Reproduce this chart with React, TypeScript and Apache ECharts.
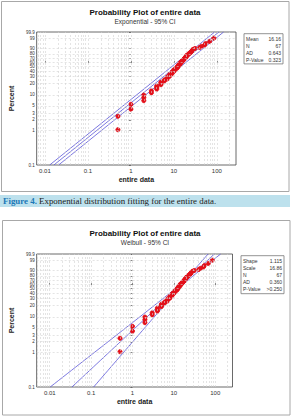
import React, { useEffect, useRef } from 'react';
import * as echarts from 'echarts';

// Sorted observations of "entire data" (N = 67)
const entireData = [0.5, 0.5, 1, 1, 2, 2, 2, 3, 3, 4, 4, 4, 5, 5, 5, 6, 6, 7, 7, 7, 8, 8, 8, 9, 9, 9, 10, 10, 10, 11, 11, 12, 12, 12, 13, 13, 13, 14, 14, 14, 15, 15, 16, 16, 17, 17, 18, 18, 19, 19, 20, 20, 21, 22, 23, 24, 25, 26, 27, 28, 31, 40, 44, 52, 55, 68, 85];
// Plotted percent (median rank) for each observation
const percentPos = [1.04, 2.52, 4.01, 5.49, 6.97, 8.46, 9.94, 11.42, 12.91, 14.39, 15.88, 17.36, 18.84, 20.33, 21.81, 23.29, 24.78, 26.26, 27.74, 29.23, 30.71, 32.2, 33.68, 35.16, 36.65, 38.13, 39.61, 41.1, 42.58, 44.07, 45.55, 47.03, 48.52, 50.0, 51.48, 52.97, 54.45, 55.93, 57.42, 58.9, 60.39, 61.87, 63.35, 64.84, 66.32, 67.8, 69.29, 70.77, 72.26, 73.74, 75.22, 76.71, 78.19, 79.67, 81.16, 82.64, 84.12, 85.61, 87.09, 88.58, 90.06, 91.54, 93.03, 94.51, 95.99, 97.48, 98.96];

const percentTicks = [0.1, 1, 2, 3, 5, 10, 20, 30, 40, 50, 60, 70, 80, 90, 99, 99.9];
const xTicks = [0.01, 0.1, 1, 10, 100];
const xTickLabels = ['0.01', '0.1', '1', '10', '100'];
const minorMultipliers = [1, 2, 3, 4, 5, 6, 7, 8, 9];
const decades = [0.001, 0.01, 0.1, 1, 10, 100];

// Fit parameters
const expMean = 16.16;
const expMeanLo = 12.9;
const expMeanHi = 20.8;
const wbShape = 1.115;
const wbScale = 16.86;
const wbCiH0 = 0.04;
const wbCiK = 0.1745;
const wbCiW0 = 0;

const statsTop = [['Mean', '16.16'], ['N', '67'], ['AD', '0.643'], ['P-Value', '0.323']];
const statsBottom = [['Shape', '1.115'], ['Scale', '16.86'], ['N', '67'], ['AD', '0.360'], ['P-Value', '>0.250']];

const W = (p: number) => Math.log10(-Math.log(1 - p / 100));
const L = (x: number) => Math.log10(x);

const RED = '#e3101a';
const BLUE = '#5a55d8';
const GRID = '#d2d2d2';
const FONT = 'Liberation Sans, Arial, sans-serif';

function buildOption() {
  const wMin = W(0.1);
  const wMax = W(99.9);
  const pts = entireData.map((x, i) => [L(x), W(percentPos[i])]);

  const xRanges = [
    [-2.192, 2.446],
    [-2.316, 2.418],
  ];

  const pLabel = (v: number) => {
    let best = 0;
    percentTicks.forEach((p, i) => {
      if (Math.abs(W(p) - v) < Math.abs(W(percentTicks[best]) - v)) best = i;
    });
    return String(percentTicks[best]);
  };
  const xLabel = (v: number) => {
    let best = 0;
    xTicks.forEach((t, i) => {
      if (Math.abs(L(t) - v) < Math.abs(L(xTicks[best]) - v)) best = i;
    });
    return xTickLabels[best];
  };

  const gridLineSeries = (idx: number) => {
    const [a, b] = xRanges[idx];
    const vLines: any[] = [];
    decades.forEach((d) => minorMultipliers.forEach((m) => {
      const v = L(d * m);
      if (v > a + 0.01 && v < b - 0.01) vLines.push({ xAxis: v });
    }));
    const hLines = percentTicks.map((p) => ({ yAxis: W(p) }));
    return {
      type: 'line',
      xAxisIndex: idx,
      yAxisIndex: idx,
      data: [],
      z: 1,
      silent: true,
      markLine: {
        silent: true,
        symbol: ['none', 'none'],
        label: { show: false },
        lineStyle: { color: GRID, type: [2, 2], width: 0.6 },
        emphasis: { disabled: true },
        data: [...vLines, ...hLines],
      },
    };
  };

  const expLine = (theta: number) => {
    const tLo = -Math.log(1 - 0.001);
    const tHi = -Math.log(1 - 0.999);
    return {
      type: 'line',
      xAxisIndex: 0,
      yAxisIndex: 0,
      data: [[L(theta * tLo), L(tLo)], [L(theta * tHi), L(tHi)]],
      symbol: 'none',
      lineStyle: { color: BLUE, width: 0.8 },
      z: 3,
      silent: true,
    };
  };

  const wbLine = (sign: number) => {
    const data: number[][] = [];
    const n = 40;
    for (let i = 0; i <= n; i++) {
      const w = wMin + ((wMax - wMin) * i) / n;
      const c = L(wbScale) + w / wbShape;
      const h = Math.sqrt(wbCiH0 * wbCiH0 + wbCiK * wbCiK * (w - wbCiW0) * (w - wbCiW0));
      data.push([c + sign * h, w]);
    }
    return {
      type: 'line',
      xAxisIndex: 1,
      yAxisIndex: 1,
      data,
      symbol: 'none',
      lineStyle: { color: BLUE, width: 0.8 },
      z: 3,
      silent: true,
    };
  };

  const xAxis = (idx: number) => ({
    type: 'value',
    gridIndex: idx,
    min: xRanges[idx][0],
    max: xRanges[idx][1],
    name: 'entire data',
    nameLocation: 'middle',
    nameGap: 11,
    nameTextStyle: { fontFamily: FONT, fontWeight: 'bold', fontSize: 7, color: '#222' },
    axisLine: { show: false },
    splitLine: { show: false },
    axisTick: { show: true, length: 2, customValues: xTicks.map(L), lineStyle: { color: '#333', width: 0.6 } },
    axisLabel: {
      customValues: xTicks.map(L),
      formatter: (v: number) => xLabel(v),
      fontSize: 6,
      fontFamily: FONT,
      color: '#333',
      margin: 3,
    },
  });

  const yAxis = (idx: number) => ({
    type: 'value',
    gridIndex: idx,
    min: wMin,
    max: wMax,
    name: 'Percent',
    nameLocation: 'middle',
    nameRotate: 90,
    nameGap: 18,
    nameTextStyle: { fontFamily: FONT, fontWeight: 'bold', fontSize: 7, color: '#222' },
    axisLine: { show: false },
    splitLine: { show: false },
    axisTick: { show: true, length: 2, customValues: percentTicks.map(W), lineStyle: { color: '#333', width: 0.6 } },
    axisLabel: {
      customValues: percentTicks.map(W),
      formatter: (v: number) => pLabel(v),
      fontSize: 4.5,
      fontFamily: FONT,
      color: '#333',
      margin: 2,
    },
  });

  const statBox = (x: number, y: number, w: number, rowH: number, rows: string[][]) => {
    const children: any[] = [
      {
        type: 'rect',
        shape: { x, y, width: w, height: rowH * rows.length + 3 },
        style: { fill: '#fff', stroke: '#777', lineWidth: 0.8 },
      },
    ];
    rows.forEach((r, i) => {
      const cy = y + 2.2 + rowH * i + rowH / 2;
      children.push({
        type: 'text',
        x: x + 2,
        y: cy,
        style: { text: r[0], fontSize: 5, fontFamily: FONT, fill: '#333', verticalAlign: 'middle', align: 'left' },
      });
      children.push({
        type: 'text',
        x: x + w - 2,
        y: cy,
        style: { text: r[1], fontSize: 5, fontFamily: FONT, fill: '#333', verticalAlign: 'middle', align: 'right' },
      });
    });
    return { type: 'group', children };
  };

  const scatter = (idx: number) => ({
    type: 'scatter',
    xAxisIndex: idx,
    yAxisIndex: idx,
    data: pts,
    symbol: 'circle',
    symbolSize: 4.2,
    itemStyle: { color: RED, opacity: 1, borderColor: RED, borderWidth: 0.8 },
    z: 4,
    silent: true,
  });

  return {
    animation: false,
    backgroundColor: '#fff',
    title: [
      {
        text: 'Probability Plot of entire data',
        subtext: 'Exponential - 95% CI',
        left: 145,
        textAlign: 'center',
        top: 8,
        itemGap: 2,
        padding: 0,
        textStyle: { fontFamily: FONT, fontWeight: 'bold', fontSize: 8, color: '#111' },
        subtextStyle: { fontFamily: FONT, fontSize: 6.5, color: '#333' },
      },
      {
        text: 'Probability Plot of entire data',
        subtext: 'Weibull - 95% CI',
        left: 145,
        textAlign: 'center',
        top: 229,
        itemGap: 2,
        padding: 0,
        textStyle: { fontFamily: FONT, fontWeight: 'bold', fontSize: 8, color: '#111' },
        subtextStyle: { fontFamily: FONT, fontSize: 6.5, color: '#333' },
      },
    ],
    grid: [
      { left: 35, top: 32, width: 201, height: 133, show: true, borderColor: '#444', borderWidth: 0.8, backgroundColor: 'transparent' },
      { left: 34.5, top: 254, width: 198, height: 133, show: true, borderColor: '#444', borderWidth: 0.8, backgroundColor: 'transparent' },
    ],
    xAxis: [xAxis(0), xAxis(1)],
    yAxis: [yAxis(0), yAxis(1)],
    series: [
      gridLineSeries(0),
      gridLineSeries(1),
      expLine(expMeanLo),
      expLine(expMean),
      expLine(expMeanHi),
      wbLine(-1),
      wbLine(0),
      wbLine(1),
      scatter(0),
      scatter(1),
    ],
    graphic: [
      {
        type: 'rect',
        z: -10,
        shape: { x: 1.5, y: 1.5, width: 287.5, height: 190 },
        style: { fill: 'none', stroke: '#a8a8a8', lineWidth: 1 },
      },
      {
        type: 'rect',
        z: -10,
        shape: { x: 2.5, y: 220.5, width: 287.5, height: 194.5 },
        style: { fill: 'none', stroke: '#a8a8a8', lineWidth: 1 },
      },
      {
        type: 'rect',
        shape: { x: 0, y: 195, width: 290, height: 12 },
        style: { fill: '#bde1ed' },
      },
      {
        type: 'text',
        x: 3,
        y: 201,
        style: {
          text: '{a|Figure 4.} Exponential distribution fitting for the entire data.',
          verticalAlign: 'middle',
          fontFamily: 'Liberation Serif, Times New Roman, serif',
          fontSize: 8.9,
          fill: '#1a1a1a',
          rich: {
            a: { fontFamily: 'Liberation Serif, Times New Roman, serif', fontSize: 8.9, fontWeight: 'bold', fill: '#1c78b8' },
          },
        },
      },
      statBox(244, 33.7, 39, 6.8, statsTop),
      statBox(241, 255.7, 43, 7, statsBottom),
    ],
  };
}

export default function App() {
  const ref = useRef<HTMLDivElement>(null);
  useEffect(() => {
    if (!ref.current) return;
    const chart = echarts.init(ref.current, undefined, { renderer: 'svg' });
    chart.setOption(buildOption() as any);
    return () => chart.dispose();
  }, []);
  return <div ref={ref} style={{ position: 'absolute', left: 0, top: 0, width: 293, height: 417 }} />;
}
